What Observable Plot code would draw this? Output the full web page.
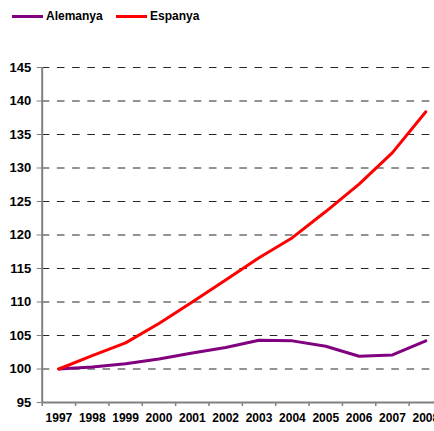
<!DOCTYPE html>
<html>
<head>
<meta charset="utf-8">
<script src="https://cdn.jsdelivr.net/npm/d3@7"></script>
<script src="https://cdn.jsdelivr.net/npm/@observablehq/plot@0.6"></script>
<style>
  html, body { margin: 0; padding: 0; background: #fff; overflow: hidden; width: 434px; height: 431px; }
  #legend { position: relative; height: 34px; font-family: "Liberation Sans", Arial, sans-serif; font-weight: bold; font-size: 12px; color: #000; }
  .item { position: absolute; top: 9px; display: flex; align-items: center; }
  .sw { display: inline-block; width: 31px; height: 3px; margin-right: 3px; }
  #chart svg { display: block; max-width: none !important; width: 442px !important; height: 397px !important; }
</style>
</head>
<body>
<div id="legend"></div>
<div id="chart"></div>
<script>
const years = [1997, 1998, 1999, 2000, 2001, 2002, 2003, 2004, 2005, 2006, 2007, 2008];
const alemanya = [100, 100.3, 100.8, 101.5, 102.4, 103.2, 104.3, 104.2, 103.4, 101.9, 102.1, 104.2];
const espanya = [100, 102.0, 103.9, 106.8, 110.0, 113.3, 116.6, 119.6, 123.5, 127.6, 132.3, 138.4];
const seriesNames = ["Alemanya", "Espanya"];
const seriesColors = ["#800080", "#ff0000"];
const yTicks = [95, 100, 105, 110, 115, 120, 125, 130, 135, 140, 145];

const legend = document.getElementById("legend");
const legendLeft = [12, 116];
seriesNames.forEach((n, i) => {
  const d = document.createElement("div");
  d.className = "item";
  d.style.left = legendLeft[i] + "px";
  d.innerHTML = `<span class="sw" style="background:${seriesColors[i]}"></span><span>${n}</span>`;
  legend.appendChild(d);
});

const data = [];
years.forEach((y, i) => {
  data.push({year: y, value: alemanya[i], series: seriesNames[0]});
  data.push({year: y, value: espanya[i], series: seriesNames[1]});
});
const bounds = years.map(y => y - 0.5).concat([years[years.length - 1] + 0.5]);
const gridVals = yTicks.slice(1);

const chart = Plot.plot({
  width: 442,
  height: 397,
  marginLeft: 41.7,
  marginRight: 0,
  marginTop: 33,
  marginBottom: 29,
  style: {fontFamily: "Liberation Sans, Arial, sans-serif", fontWeight: "bold", color: "#000", background: "#fff"},
  x: {domain: [bounds[0], bounds[bounds.length - 1]]},
  y: {domain: [95, 145]},
  color: {domain: seriesNames, range: seriesColors},
  marks: [
    Plot.ruleY(gridVals, {stroke: "#000", strokeWidth: 1, strokeDasharray: "7.6,7.6", strokeOpacity: 0.85}),
    Plot.axisY({ticks: yTicks, tickSize: 5, tickPadding: 6, fontSize: 13, stroke: "#808080", strokeOpacity: 1, label: null, tickFormat: d => d}),
    Plot.axisX({ticks: years, tickSize: 0, tickPadding: 11, fontSize: 12, label: null, tickFormat: d => String(d)}),
    Plot.ruleX(bounds, {x: d => d, y1: 95, y2: 94.4, stroke: "#808080", strokeWidth: 1.5}),
    Plot.ruleX([bounds[0]], {stroke: "#808080", strokeWidth: 2}),
    Plot.ruleY([95], {stroke: "#808080", strokeWidth: 2}),
    Plot.line(data, {x: "year", y: "value", z: "series", stroke: "series", strokeWidth: 3, strokeLinejoin: "miter"})
  ]
});
document.getElementById("chart").appendChild(chart);
</script>
</body>
</html>
